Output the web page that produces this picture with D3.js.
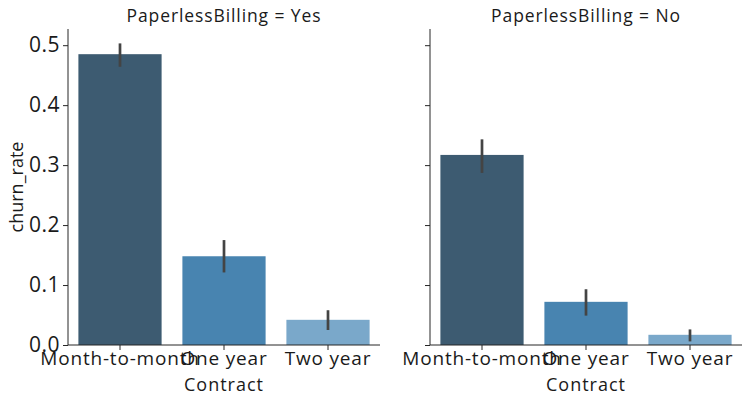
<!DOCTYPE html>
<html><head><meta charset="utf-8">
<script src="https://d3js.org/d3.v7.min.js"></script>
<style>body{margin:0;background:#fff}svg{display:block}text{font-family:"Open Sans","Noto Sans",sans-serif;fill:#1a1a1a}</style>
</head><body>
<script>
const contracts = ["Month-to-month", "One year", "Two year"];
const panels = ["Yes", "No"];
const churnYes = [0.485, 0.148, 0.042];
const ciLowYes = [0.464, 0.121, 0.025];
const ciHighYes = [0.503, 0.175, 0.058];
const churnNo = [0.317, 0.072, 0.017];
const ciLowNo = [0.287, 0.049, 0.006];
const ciHighNo = [0.343, 0.093, 0.026];
const yTicks = [0.0, 0.1, 0.2, 0.3, 0.4, 0.5];
const colors = ["#3d5b71", "#4884b0", "#7aa8ca"];

const W = 748, H = 403;
const svg = d3.select("body").append("svg").attr("width", W).attr("height", H);
const y = d3.scaleLinear().domain([0, 0.527]).range([345, 29]);
const panelX = [[68, 380], [430, 742]];
const data = {Yes: [churnYes, ciLowYes, ciHighYes], No: [churnNo, ciLowNo, ciHighNo]};

panels.forEach((p, pi) => {
  const x = d3.scaleBand().domain(contracts).range(panelX[pi]).paddingInner(0.2).paddingOuter(0.1);
  const g = svg.append("g");
  const [vals, lo, hi] = data[p];
  g.selectAll("rect.bar").data(contracts).enter().append("rect")
    .attr("x", d => x(d)).attr("width", x.bandwidth())
    .attr("y", (d, i) => y(vals[i])).attr("height", (d, i) => y(0) - y(vals[i]))
    .attr("fill", (d, i) => colors[i]);
  g.selectAll("line.err").data(contracts).enter().append("line")
    .attr("x1", d => x(d) + x.bandwidth() / 2).attr("x2", d => x(d) + x.bandwidth() / 2)
    .attr("y1", (d, i) => y(lo[i])).attr("y2", (d, i) => y(hi[i]))
    .attr("stroke", "#444").attr("stroke-width", 2.7);
  const yAxis = d3.axisLeft(y).tickValues(yTicks).tickSize(5).tickPadding(3)
    .tickFormat(pi === 0 ? d3.format(".1f") : "");
  const ya = g.append("g").attr("transform", `translate(${panelX[pi][0]},0)`).call(yAxis);
  ya.select(".domain").attr("d", `M-0,${y.range()[1]}V${y(0)}`);
  ya.selectAll("text").style("font-size", "21px").style("letter-spacing", "0.5px").attr("fill", "#1a1a1a");
  const xAxis = d3.axisBottom(x).tickSize(5).tickPadding(2);
  const xa = g.append("g").attr("transform", `translate(0,${y(0)})`).call(xAxis);
  xa.select(".domain").attr("d", `M${panelX[pi][0]},0H${panelX[pi][1]}`);
  xa.selectAll("text").style("font-size", "19px").style("letter-spacing", "0.8px").attr("fill", "#1a1a1a");
  g.selectAll(".domain").attr("stroke", "#262626");
  g.selectAll(".tick line").attr("stroke", "#262626");
  svg.append("text").attr("x", (panelX[pi][0] + panelX[pi][1]) / 2).attr("y", 22)
    .attr("text-anchor", "middle").style("font-size", "17.5px").style("letter-spacing", "0.9px")
    .text("PaperlessBilling = " + p);
  svg.append("text").attr("x", (panelX[pi][0] + panelX[pi][1]) / 2).attr("y", 391)
    .attr("text-anchor", "middle").style("font-size", "18px").style("letter-spacing", "1px").text("Contract");
});
svg.append("text").attr("transform", "translate(23,187) rotate(-90)")
  .attr("text-anchor", "middle").style("font-size", "18px").text("churn_rate");
</script>
</body></html>
